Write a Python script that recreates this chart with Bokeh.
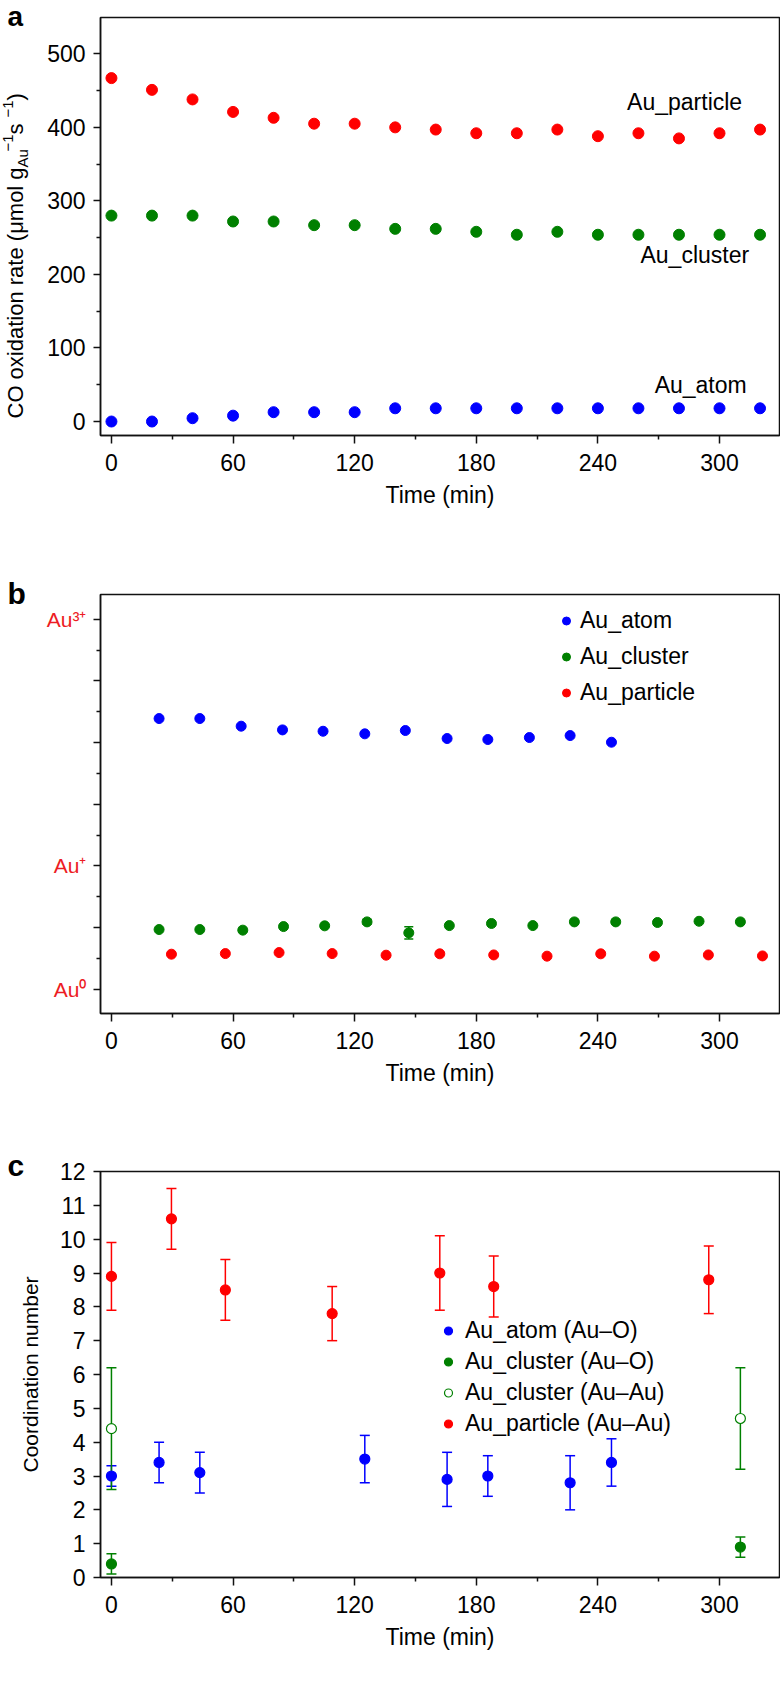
import math
from bokeh.plotting import figure
from bokeh.layouts import column, row
from bokeh.models import (ColumnDataSource, FixedTicker, Label, Legend, LegendItem,
                          Whisker, TeeHead, Range1d, Spacer)
from bokeh.core.properties import value
from bokeh.embed import file_html
from bokeh.resources import INLINE

# ---------------- data ----------------
time_ticks = [0, 60, 120, 180, 240, 300]
time_minor = [30, 90, 150, 210, 270]

# panel a: CO oxidation rate
a_time = [0, 20, 40, 60, 80, 100, 120, 140, 160, 180, 200, 220, 240, 260, 280, 300, 320]
a_particle = [467, 451, 438, 421, 413, 405, 405, 400, 397, 392, 392, 397, 388, 392, 385, 392, 397]
a_cluster = [280, 280, 280, 272, 272, 267, 267, 262, 262, 258, 254, 258, 254, 254, 254, 254, 254]
a_atom = [0, 0, 4.5, 8, 12.7, 12.7, 12.7, 18, 18, 18, 18, 18, 18, 18, 18, 18, 18]
a_yticks = [0, 100, 200, 300, 400, 500]
a_yminor = [50, 150, 250, 350, 450]
a_series_names = ["Au_particle", "Au_cluster", "Au_atom"]

# panel b: oxidation state
b_atom_time = [23.5, 43.6, 64, 84.4, 104.4, 125, 145, 165.6, 185.7, 206.2, 226.3, 246.7]
b_atom_val = [2.195, 2.195, 2.133, 2.103, 2.092, 2.071, 2.098, 2.033, 2.025, 2.041, 2.057, 2.003]
b_cluster_time = [23.5, 43.6, 64.8, 84.9, 105.2, 126.1, 146.7, 166.7, 187.5, 207.9, 228.4,
                  248.8, 269.4, 289.9, 310.3]
b_cluster_val = [0.484, 0.484, 0.479, 0.508, 0.514, 0.546, 0.457, 0.516, 0.533, 0.516, 0.546,
                 0.546, 0.541, 0.551, 0.546]
b_cluster_err = [0, 0, 0, 0, 0, 0.02, 0.05, 0, 0, 0, 0, 0, 0, 0, 0]
b_particle_time = [29.6, 56.2, 82.7, 108.9, 135.5, 162, 188.6, 214.9, 241.4, 267.9, 294.5, 321.2]
b_particle_val = [0.284, 0.289, 0.297, 0.289, 0.276, 0.287, 0.278, 0.268, 0.287, 0.268, 0.278, 0.27]
b_yticks = [0, 0.5, 1, 1.5, 2, 2.5, 3]
b_yminor = [0.25, 0.75, 1.25, 1.75, 2.25, 2.75]
b_state_labels = {0: "Au\u2070", 1: "Au\u207a", 3: "Au\u00b3\u207a"}

# panel c: coordination number
c_atom_time = [0, 23.5, 43.6, 125, 165.6, 185.7, 226.3, 246.7]
c_atom_val = [3.0, 3.4, 3.1, 3.5, 2.9, 3.0, 2.8, 3.4]
c_atom_lo = [2.7, 2.8, 2.5, 2.8, 2.1, 2.4, 2.0, 2.7]
c_atom_hi = [3.3, 4.0, 3.7, 4.2, 3.7, 3.6, 3.6, 4.1]
c_clo_time = [0, 310.3]
c_clo_val = [0.4, 0.9]
c_clo_lo = [0.1, 0.6]
c_clo_hi = [0.7, 1.2]
c_claa_time = [0, 310.3]
c_claa_val = [4.4, 4.7]
c_claa_lo = [2.6, 3.2]
c_claa_hi = [6.2, 6.2]
c_part_time = [0, 29.6, 56.2, 108.9, 162, 188.6, 294.7]
c_part_val = [8.9, 10.6, 8.5, 7.8, 9.0, 8.6, 8.8]
c_part_lo = [7.9, 9.7, 7.6, 7.0, 7.9, 7.7, 7.8]
c_part_hi = [9.9, 11.5, 9.4, 8.6, 10.1, 9.5, 9.8]
c_yticks = list(range(0, 13))
c_names = ["Au_atom (Au\u2013O)", "Au_cluster (Au\u2013O)", "Au_cluster (Au\u2013Au)",
           "Au_particle (Au\u2013Au)"]

# ---------------- style ----------------
BLUE = "#0000ff"
GREEN = "#008000"
RED = "#ff0000"
TRED = "#ed1c24"
INK = "#111111"
FONT = "Liberation Sans"
FS = "23px"
STRIP_W = 42
MAIN_W = 738
LEFT = 100 - STRIP_W
MID = 0.35  # distance (in em) from the text-box middle to the alphabetic baseline


def no_align(p):
    if "frame_align" in p.properties():
        p.frame_align = False


def base_fig(height, top, bottom, yr, yticks, yminor):
    p = figure(width=MAIN_W, height=height, x_range=Range1d(-5.4, 329.6), y_range=Range1d(*yr),
               output_backend="svg", toolbar_location=None,
               min_border_left=LEFT, min_border_right=MAIN_W - LEFT - 679, min_border_top=top,
               min_border_bottom=bottom)
    p.grid.visible = False
    p.outline_line_color = INK
    p.outline_line_width = 1.5
    p.outline_line_alpha = 1.0
    p.background_fill_color = "white"
    p.border_fill_color = "white"
    for ax in (p.xaxis[0], p.yaxis[0]):
        ax.axis_line_color = INK
        ax.axis_line_width = 1.5
        ax.major_tick_line_color = INK
        ax.minor_tick_line_color = INK
        ax.major_tick_line_width = 1.5
        ax.minor_tick_line_width = 1.5
        ax.major_tick_in = 0
        ax.minor_tick_in = 0
        ax.major_tick_out = 8
        ax.minor_tick_out = 4
        ax.major_label_text_font = FONT
        ax.major_label_text_font_size = FS
        ax.major_label_text_color = "black"
        ax.axis_label_text_font = FONT
        ax.axis_label_text_font_size = FS
        ax.axis_label_text_font_style = "normal"
        ax.axis_label_text_color = "black"
    p.xaxis.ticker = FixedTicker(ticks=time_ticks, minor_ticks=time_minor)
    p.xaxis.axis_label = "Time (min)"
    p.xaxis.major_label_standoff = 10
    p.xaxis.axis_label_standoff = 8
    p.yaxis.ticker = FixedTicker(ticks=yticks, minor_ticks=yminor)
    p.yaxis.major_tick_out = 7
    p.yaxis.major_label_standoff = 8
    return p


def strip_fig(height):
    s = figure(width=STRIP_W, height=height, x_range=Range1d(0, STRIP_W),
               y_range=Range1d(0, height), output_backend="svg", toolbar_location=None,
               min_border=0, x_axis_location=None, y_axis_location=None,
               outline_line_color=None)
    s.grid.visible = False
    s.background_fill_color = "white"
    s.border_fill_color = "white"
    no_align(s)
    return s


def strip_text(s, x, y, txt, size, rotated=False, bold=False):
    """(x, y) is the start of the alphabetic baseline, in strip pixels."""
    shift = MID * size
    if rotated:
        x, angle = x - shift, math.pi / 2
    else:
        y, angle = y + shift, 0.0
    s.text(x=[x], y=[y], text=[txt], angle=angle, text_font=value(FONT),
           text_font_size=value(f"{size}px"), text_font_style="bold" if bold else "normal",
           text_color="black", text_align="left", text_baseline="middle")


# ---------------- panel a ----------------
pa = base_fig(550, 17, 115, (-19, 549.4), a_yticks, a_yminor)
src_a = ColumnDataSource(dict(t=a_time, p=a_particle, c=a_cluster, a=a_atom))
pa.scatter("t", "p", source=src_a, size=11, color=RED)
pa.scatter("t", "c", source=src_a, size=11, color=GREEN)
pa.scatter("t", "a", source=src_a, size=11, color=BLUE)
for name, (lx, ly) in zip(a_series_names, [(254.4, 434), (261, 226), (268, 50)]):
    pa.add_layout(Label(x=lx, y=ly, text=name, text_font=FONT, text_font_size=FS,
                        text_color="black", text_align="left", text_baseline="middle"))

# ---------------- panel b ----------------
pb = base_fig(550, 44, 87, (-0.197, 3.201), b_yticks, b_yminor)
pb.yaxis.major_label_overrides = {t: b_state_labels.get(t, "") for t in b_yticks}
pb.yaxis.major_label_text_color = TRED
pb.yaxis.major_label_text_font_size = "21px"
pb.yaxis.major_label_standoff = 7
src_ba = ColumnDataSource(dict(t=b_atom_time, v=b_atom_val))
src_bc = ColumnDataSource(dict(t=b_cluster_time, v=b_cluster_val))
src_bp = ColumnDataSource(dict(t=b_particle_time, v=b_particle_val))
idx = [i for i, e in enumerate(b_cluster_err) if e > 0]
src_bce = ColumnDataSource(dict(t=[b_cluster_time[i] for i in idx],
                                lo=[b_cluster_val[i] - b_cluster_err[i] for i in idx],
                                hi=[b_cluster_val[i] + b_cluster_err[i] for i in idx]))
pb.add_layout(Whisker(source=src_bce, base="t", lower="lo", upper="hi", line_color=GREEN,
                      line_width=1.5,
                      upper_head=TeeHead(size=9, line_color=GREEN, line_width=1.5),
                      lower_head=TeeHead(size=9, line_color=GREEN, line_width=1.5)))
rba = pb.scatter("t", "v", source=src_ba, size=10, color=BLUE)
rbc = pb.scatter("t", "v", source=src_bc, size=10, color=GREEN)
rbp = pb.scatter("t", "v", source=src_bp, size=10, color=RED)
leg_b = Legend(items=[LegendItem(label="Au_atom", renderers=[rba]),
                      LegendItem(label="Au_cluster", renderers=[rbc]),
                      LegendItem(label="Au_particle", renderers=[rbp])],
               location=(456, 307), padding=0, margin=0, spacing=9,
               glyph_height=27, glyph_width=20, label_height=27, label_standoff=4,
               label_text_font=FONT, label_text_font_size=FS, label_text_color="black",
               background_fill_alpha=0, border_line_alpha=0)
pb.add_layout(leg_b)

# ---------------- panel c ----------------
pc = base_fig(596, 71, 119, (0, 12), c_yticks, [])


def err_series(p, t, v, lo, hi, color, fill):
    s = ColumnDataSource(dict(t=t, v=v, lo=lo, hi=hi))
    p.add_layout(Whisker(source=s, base="t", lower="lo", upper="hi", line_color=color,
                         line_width=1.5,
                         upper_head=TeeHead(size=10, line_color=color, line_width=1.5),
                         lower_head=TeeHead(size=10, line_color=color, line_width=1.5)))
    return p.scatter("t", "v", source=s, size=10, line_color=color, fill_color=fill,
                     line_width=1.2)


r1 = err_series(pc, c_atom_time, c_atom_val, c_atom_lo, c_atom_hi, BLUE, BLUE)
r2 = err_series(pc, c_clo_time, c_clo_val, c_clo_lo, c_clo_hi, GREEN, GREEN)
r3 = err_series(pc, c_claa_time, c_claa_val, c_claa_lo, c_claa_hi, GREEN, "white")
r4 = err_series(pc, c_part_time, c_part_val, c_part_lo, c_part_hi, RED, RED)
leg_c = Legend(items=[LegendItem(label=n, renderers=[r]) for n, r in zip(c_names, [r1, r2, r3, r4])],
               location=(338, 140), padding=0, margin=0, spacing=4,
               glyph_height=27, glyph_width=20, label_height=27, label_standoff=7,
               label_text_font=FONT, label_text_font_size=FS, label_text_color="black",
               background_fill_alpha=0, border_line_alpha=0)
pc.add_layout(leg_c)

# ---------------- left strip (panel letters and rotated y titles) ----------------
# strip 1 covers page rows 1..570, strip 2 rows 570..1150, strip 3 rows 1150..1695
s1 = strip_fig(569)
strip_text(s1, 7, 544, "a", 28, bold=True)
strip_text(s1, 23, 152, "CO oxidation rate (\u03bcmol g", 22, rotated=True)
strip_text(s1, 27, 403, "Au", 15, rotated=True)
strip_text(s1, 13, 419, "\u22121", 15, rotated=True)
strip_text(s1, 23, 436, " s", 22, rotated=True)
strip_text(s1, 13, 453, "\u22121", 15, rotated=True)
strip_text(s1, 23, 470, ")", 22, rotated=True)

s2 = strip_fig(580)
strip_text(s2, 7, 547, "b", 30, bold=True)

s3 = strip_fig(545)
strip_text(s3, 7, 520, "c", 30, bold=True)
strip_text(s3, 37.5, 223, "Coordination number", 21, rotated=True)

strip_col = column(Spacer(width=STRIP_W, height=1), s1, s2, s3,
                   Spacer(width=STRIP_W, height=1), spacing=0)
main_col = column(pa, pb, pc, spacing=0)
layout = row(strip_col, main_col, spacing=0)
open("out.html", "w").write(file_html(layout, INLINE))
